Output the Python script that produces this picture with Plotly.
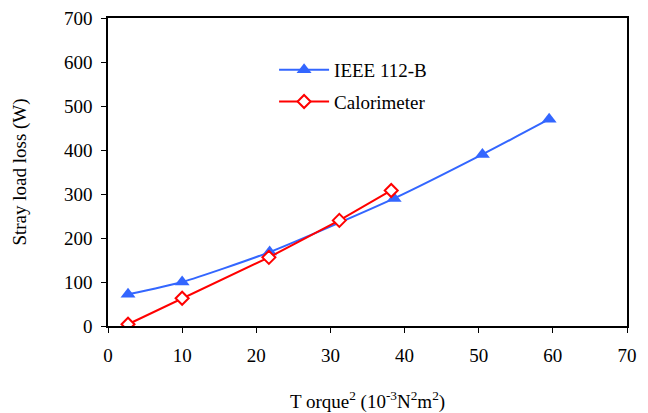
import plotly.graph_objects as go

ieee_x = [2.7, 10.0, 21.8, 38.6, 50.5, 59.5]
ieee_y = [72, 100, 168, 290, 390, 470]
cal_x = [2.7, 10.0, 21.7, 31.2, 38.2]
cal_y = [4, 63, 156, 240, 308]

font = "Liberation Serif, Times New Roman, serif"
fs = 19
fig = go.Figure()
fig.add_trace(go.Scatter(
    x=ieee_x, y=ieee_y, mode="lines+markers", name="IEEE 112-B", legendgroup="a",
    line=dict(color="#3366FF", width=2, shape="spline", smoothing=0.6),
    marker=dict(symbol="triangle-up", size=13, color="#3366FF")))
fig.add_trace(go.Scatter(
    x=cal_x, y=cal_y, mode="lines+markers", name="Calorimeter", legendgroup="b",
    line=dict(color="#FF0000", width=2),
    marker=dict(symbol="diamond", size=10, color="white", line=dict(color="#FF0000", width=2))))

fig.update_layout(
    width=648, height=413,
    margin=dict(l=108, r=21, t=18, b=87, autoexpand=False),
    paper_bgcolor="white", plot_bgcolor="white",
    font=dict(family=font, size=fs, color="black"),
    showlegend=True,
    legend=dict(x=0.32, y=0.893, xanchor="left", yanchor="top",
                bgcolor="rgba(0,0,0,0)", font=dict(family=font, size=fs, color="black"),
                itemwidth=50, traceorder="grouped", tracegroupgap=4),
    xaxis=dict(range=[0, 70], dtick=10, showgrid=False, zeroline=False,
               showline=True, linecolor="black", linewidth=1.5, mirror=True,
               ticks="outside", ticklen=5, tickcolor="black", automargin=False,
               ticklabelstandoff=6,
               tickfont=dict(family=font, size=fs, color="black"),
               title=dict(text="T orque<sup>2</sup> (10<sup>-3</sup>N<sup>2</sup>m<sup>2</sup>)",
                          font=dict(family=font, size=fs, color="black"), standoff=31)),
    yaxis=dict(range=[0, 700], dtick=100, showgrid=False, zeroline=False,
               showline=True, linecolor="black", linewidth=1.5, mirror=True,
               ticks="outside", ticklen=5, tickcolor="black", automargin=False,
               ticklabelstandoff=5,
               tickfont=dict(family=font, size=fs, color="black"),
               title=dict(text="Stray load loss (W)", font=dict(family=font, size=fs, color="black"), standoff=32)),
)
fig.write_html("out.html")
